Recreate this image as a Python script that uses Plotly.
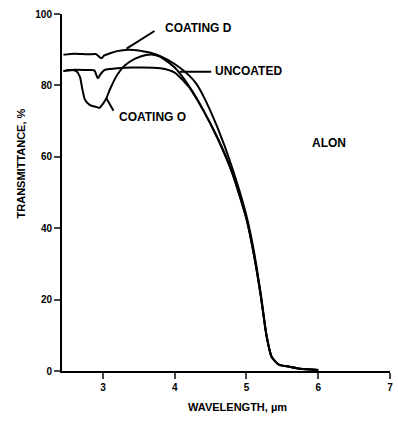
import plotly.graph_objects as go

# Data (wavelength in µm, transmittance in %)
coat_d_w = [2.45, 2.6, 2.8, 2.9, 2.95, 2.98, 3.02, 3.1, 3.2, 3.35, 3.5, 3.65, 3.8, 4.0, 4.2, 4.3, 4.4, 4.6, 4.8, 5.0, 5.1, 5.2, 5.28, 5.35, 5.45, 5.6, 5.75, 6.0]
coat_d_t = [88.6, 88.9, 88.7, 88.8, 88.0, 87.6, 88.4, 89.0, 89.6, 90.0, 89.8, 89.2, 88.2, 86.0, 82.8, 80.5, 77.0, 68.0, 57.0, 43.5, 34.0, 21.5, 10.0, 4.0, 1.8, 1.2, 0.6, 0.3]

coat_o_w = [2.45, 2.55, 2.63, 2.68, 2.71, 2.75, 2.82, 2.9, 2.95, 3.0, 3.05, 3.1, 3.2, 3.3, 3.45, 3.6, 3.7, 3.8, 4.0, 4.2, 4.4, 4.6, 4.8, 5.0, 5.1, 5.2, 5.28, 5.35, 5.45, 5.6, 5.75, 6.0]
coat_o_t = [84.0, 84.3, 84.0, 82.4, 79.3, 76.0, 74.5, 74.0, 73.7, 74.8, 76.5, 79.0, 83.0, 85.5, 87.5, 88.5, 88.6, 88.0, 85.0, 79.8, 73.0, 65.0, 55.5, 42.5, 33.0, 21.0, 9.8, 4.0, 1.8, 1.2, 0.6, 0.3]

uncoat_w = [2.45, 2.6, 2.8, 2.88, 2.93, 2.97, 3.02, 3.1, 3.4, 3.8, 4.0, 4.2, 4.4, 4.6, 4.8, 5.0, 5.1, 5.2, 5.28, 5.35, 5.45, 5.6, 5.75, 6.0]
uncoat_t = [84.0, 84.4, 84.3, 84.2, 82.0, 83.2, 84.3, 84.6, 85.0, 84.8, 83.6, 79.5, 73.0, 65.2, 55.7, 42.8, 33.0, 21.0, 9.8, 4.0, 1.8, 1.2, 0.6, 0.3]

x_ticks = [3, 4, 5, 6, 7]
y_ticks = [0, 20, 40, 60, 80, 100]

FONT = "Liberation Sans Narrow, Liberation Sans, Arial"

fig = go.Figure()
for w, t in [(coat_d_w, coat_d_t), (coat_o_w, coat_o_t), (uncoat_w, uncoat_t)]:
    fig.add_trace(go.Scatter(x=w, y=t, mode="lines", line=dict(color="black", width=2, shape="spline", smoothing=0.6),
                             showlegend=False, hoverinfo="skip"))

fig.update_layout(
    width=398, height=424,
    margin=dict(l=62, r=5, t=14, b=53),
    paper_bgcolor="white", plot_bgcolor="white",
    font=dict(family=FONT, color="black", size=11, weight="bold"),
)
fig.update_xaxes(range=[2.43, 7], tickvals=x_ticks, ticks="outside", ticklen=6, tickwidth=2,
                 showline=True, linecolor="black", linewidth=2, showgrid=False, zeroline=False,
                 tickfont=dict(size=10, family=FONT, weight="bold"))
fig.update_yaxes(range=[0, 100], tickvals=y_ticks, ticks="outside", ticklen=6, tickwidth=2,
                 showline=True, linecolor="black", linewidth=2, showgrid=False, zeroline=False,
                 tickfont=dict(size=10, family=FONT, weight="bold"))

lbl = dict(showarrow=False, font=dict(family=FONT, size=12, weight="bold", color="black"))
fig.add_annotation(x=4.33, y=96.1, text="COATING D", xanchor="center", **lbl)
fig.add_annotation(x=4.54, y=84.0, text="UNCOATED", xanchor="left", **lbl)
fig.add_annotation(x=3.19, y=71.1, text="COATING O", xanchor="left", **lbl)
fig.add_annotation(x=6.15, y=63.9, text="ALON", xanchor="center", **lbl)

# leader lines
for (x0, y0, x1, y1) in [(3.33, 90.3, 3.74, 95.5), (4.07, 83.8, 4.53, 83.8), (3.05, 76.3, 3.16, 72.5)]:
    fig.add_annotation(x=x0, y=y0, ax=x1, ay=y1, axref="x", ayref="y", text="", showarrow=True,
                       arrowhead=0, arrowwidth=2, arrowcolor="black", standoff=0, startstandoff=0)

fig.add_annotation(xref="paper", yref="paper", x=(239 - 62) / 331, y=(371 - 415) / 357, text="WAVELENGTH, µm",
                   showarrow=False, font=dict(family=FONT, size=11, weight="bold"))
fig.add_annotation(xref="paper", yref="paper", x=(13 - 62) / 331, y=(371 - 163) / 357, text="TRANSMITTANCE, %",
                   textangle=-90, showarrow=False, font=dict(family=FONT, size=11, weight="bold"))

fig.write_html("out.html")
